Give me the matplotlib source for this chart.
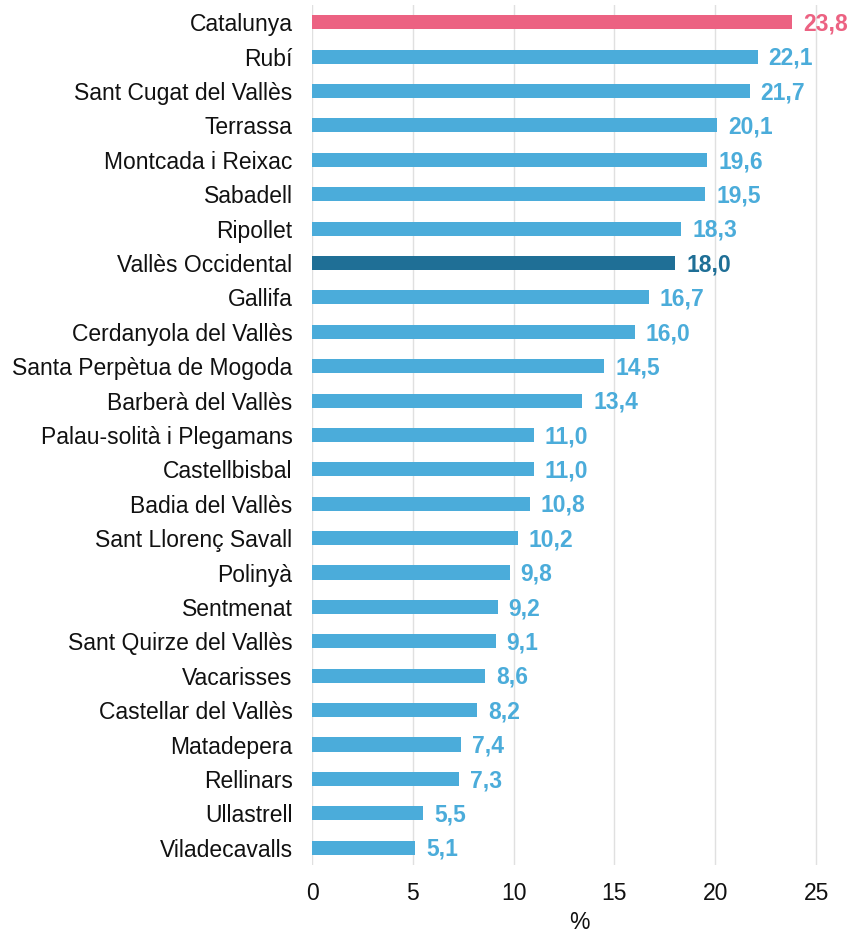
import matplotlib
matplotlib.use("Agg")
import matplotlib.pyplot as plt

categories = ["Catalunya", "Rubí", "Sant Cugat del Vallès", "Terrassa", "Montcada i Reixac",
              "Sabadell", "Ripollet", "Vallès Occidental", "Gallifa", "Cerdanyola del Vallès",
              "Santa Perpètua de Mogoda", "Barberà del Vallès", "Palau-solità i Plegamans",
              "Castellbisbal", "Badia del Vallès", "Sant Llorenç Savall", "Polinyà", "Sentmenat",
              "Sant Quirze del Vallès", "Vacarisses", "Castellar del Vallès", "Matadepera",
              "Rellinars", "Ullastrell", "Viladecavalls"]
values = [23.8, 22.1, 21.7, 20.1, 19.6, 19.5, 18.3, 18.0, 16.7, 16.0, 14.5, 13.4, 11.0,
          11.0, 10.8, 10.2, 9.8, 9.2, 9.1, 8.6, 8.2, 7.4, 7.3, 5.5, 5.1]
xticks = [0, 5, 10, 15, 20, 25]
xlabel = "%"

PINK = "#EC6282"
BLUE = "#4BACDA"
DARK = "#1F6F96"

def color_for(name):
    if name == "Catalunya":
        return PINK
    if name == "Vallès Occidental":
        return DARK
    return BLUE

plt.rcParams['font.family'] = ['Liberation Sans', 'DejaVu Sans']

fig = plt.figure(figsize=(8.48, 9.34), dpi=100)
ax = fig.add_axes([0.368, 0.074, 0.63, 0.9206])

y = list(range(len(categories)))
colors = [color_for(c) for c in categories]
ax.barh(y, values, height=0.41, color=colors, zorder=3)
ax.set_ylim(len(categories) - 0.5, -0.5)
ax.set_xlim(0, 26.5)
ax.set_yticks(y)
ax.set_yticklabels(categories, fontsize=16.5, color="#111111")
ax.set_xticks(xticks)
ax.set_xticklabels([str(t) for t in xticks], fontsize=16.5, color="#111111")
ax.tick_params(axis='y', length=0, pad=14)
ax.tick_params(axis='x', length=0, pad=12)
ax.set_xlabel(xlabel, fontsize=16.5, color="#111111", labelpad=5)
ax.grid(axis='x', color="#E0E0E0", linewidth=1, zorder=0)
for s in ax.spines.values():
    s.set_visible(False)

for yi, v, c in zip(y, values, colors):
    ax.text(v + 0.55, yi + 0.05, f"{v:.1f}".replace(".", ","), va='center', ha='left',
            fontsize=16.5, fontweight='bold', color=c)

fig.savefig("out.png", dpi=100)
